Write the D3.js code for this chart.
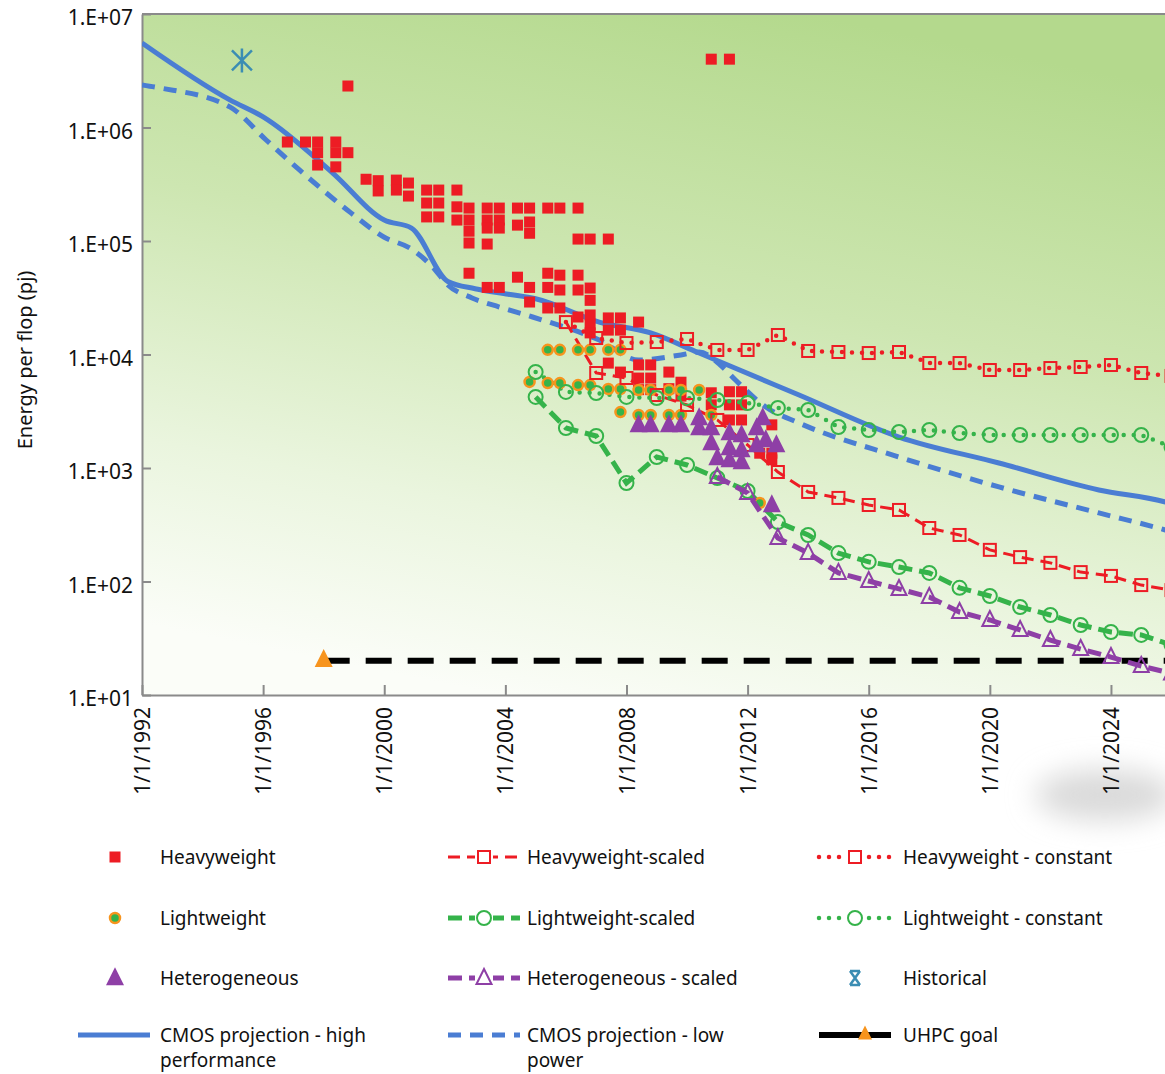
<!DOCTYPE html>
<html>
<head>
<meta charset="utf-8">
<script src="https://cdn.jsdelivr.net/npm/d3@7"></script>
<style>
  body { margin: 0; background: #fff; }
  svg { display: block; font-family: "Noto Sans", sans-serif; }
</style>
</head>
<body>
<svg id="chart" width="1165" height="1074"></svg>
<script>
// tick values
var xTicks = [1992, 1996, 2000, 2004, 2008, 2012, 2016, 2020, 2024];
var yTicks = [1e1, 1e2, 1e3, 1e4, 1e5, 1e6, 1e7];

// measured points, [year, pJ per flop]
var heavyweight = [
  [1996.8, 7.45e5], [1997.4, 7.45e5], [1997.8, 7.45e5], [1997.8, 6.0e5], [1997.8, 4.67e5],
  [1998.4, 7.45e5], [1998.4, 6.0e5], [1998.4, 4.5e5], [1998.8, 6.0e5], [1998.8, 2.32e6],
  [1999.4, 3.5e5], [1999.8, 3.4e5], [1999.8, 2.76e5], [2000.4, 3.44e5], [2000.4, 2.81e5],
  [2000.8, 3.24e5], [2000.8, 2.49e5], [2001.4, 2.81e5], [2001.8, 2.81e5], [2001.4, 2.16e5],
  [2001.8, 2.16e5], [2001.4, 1.63e5], [2001.8, 1.63e5], [2002.4, 2.81e5], [2002.4, 2.0e5],
  [2002.4, 1.53e5], [2002.8, 1.95e5], [2002.8, 1.53e5], [2002.8, 1.22e5], [2002.8, 9.6e4],
  [2003.4, 1.95e5], [2003.4, 1.53e5], [2003.4, 1.3e5], [2003.8, 1.95e5], [2003.8, 1.53e5],
  [2003.8, 1.3e5], [2003.4, 9.4e4], [2004.4, 1.95e5], [2004.8, 1.95e5], [2004.4, 1.38e5],
  [2004.8, 1.47e5], [2004.8, 1.17e5], [2005.4, 1.95e5], [2005.8, 1.95e5], [2006.4, 1.95e5],
  [2006.4, 1.04e5], [2006.8, 1.04e5], [2007.4, 1.04e5],
  [2002.8, 5.2e4], [2003.4, 3.9e4], [2003.8, 3.9e4], [2004.4, 4.8e4], [2004.8, 3.9e4],
  [2004.8, 2.9e4], [2005.4, 5.2e4], [2005.4, 3.9e4], [2005.8, 5.0e4], [2005.8, 3.7e4],
  [2005.4, 2.57e4], [2005.8, 2.57e4], [2006.4, 5.0e4], [2006.4, 3.7e4], [2006.8, 3.85e4],
  [2006.8, 3.0e4], [2006.4, 2.14e4], [2006.8, 2.23e4], [2006.8, 1.82e4], [2006.8, 1.55e4],
  [2007.4, 2.1e4], [2007.4, 1.64e4], [2007.8, 2.1e4], [2007.8, 1.64e4], [2008.4, 1.93e4],
  [2007.4, 8400], [2007.8, 7000], [2008.4, 8100], [2008.4, 6200], [2008.4, 4900],
  [2008.8, 8100], [2008.8, 6200], [2008.8, 4900], [2009.4, 7000], [2009.4, 5000],
  [2009.8, 5700], [2009.8, 4300], [2010.8, 4600], [2010.8, 3600], [2011.4, 4700],
  [2011.4, 3600], [2011.4, 2650], [2011.8, 4700], [2011.8, 3600], [2011.8, 2650],
  [2012.8, 2400], [2012.4, 1350], [2012.8, 1350], [2012.8, 1180],
  [2010.8, 4.0e6], [2011.4, 4.0e6]
];

var lightweight = [
  [2005.4, 1.1e4], [2005.8, 1.1e4], [2006.4, 1.1e4], [2006.8, 1.1e4], [2007.4, 1.1e4], [2007.8, 1.1e4],
  [2004.8, 5730], [2005.4, 5600], [2005.8, 5600], [2006.4, 5380], [2006.8, 5380], [2007.4, 4970],
  [2007.8, 4970], [2008.4, 4870], [2008.8, 4870], [2009.4, 4870], [2009.8, 4870], [2010.4, 4870],
  [2007.8, 3110], [2008.4, 2930], [2008.8, 2930], [2009.4, 2930], [2009.8, 2930], [2010.8, 2930],
  [2012.4, 492]
];

var heterogeneous = [
  [2008.4, 2390], [2008.8, 2390], [2009.4, 2390], [2009.8, 2390], [2010.4, 2760], [2010.4, 2250],
  [2010.8, 2250], [2010.8, 1660], [2011.0, 1225], [2011.4, 2030], [2011.4, 1500], [2011.4, 1175],
  [2011.8, 1950], [2011.8, 1440], [2011.8, 1130], [2012.3, 2250], [2012.3, 1595], [2012.5, 2760],
  [2012.6, 1765], [2012.95, 1595], [2012.8, 472]
];

var historical = [[1995.3, 3.9e6]];

var heavyScaled = [
  [2006, 19300], [2007, 6870], [2008, 6210], [2009, 4395], [2010, 3590], [2011, 2650],
  [2012, 1595], [2013, 922], [2014, 615], [2015, 545], [2016, 472], [2017, 427], [2018, 296],
  [2019, 257], [2020, 190], [2021, 164], [2022, 146], [2023, 121], [2024, 112], [2025, 93], [2026, 84]
];

var heavyConstant = [
  [2006, 19300], [2007, 13970], [2008, 12620], [2009, 12880], [2010, 13700], [2011, 10960],
  [2012, 10960], [2013, 14850], [2014, 10740], [2015, 10520], [2016, 10300], [2017, 10520],
  [2018, 8410], [2019, 8410], [2020, 7300], [2021, 7300], [2022, 7600], [2023, 7760],
  [2024, 8080], [2025, 6870], [2026, 6470]
];

var lightScaled = [
  [2005, 4227], [2006, 2250], [2007, 1914], [2008, 738], [2009, 1250], [2010, 1063], [2011, 816],
  [2012, 627], [2013, 334], [2014, 257], [2015, 178], [2016, 149], [2017, 134], [2018, 119],
  [2019, 88], [2020, 74.5], [2021, 59.6], [2022, 50.7], [2023, 41.4], [2024, 35.9], [2025, 33.8], [2026, 27.6]
];

var lightConstant = [
  [2005, 7015], [2006, 4677], [2007, 4580], [2008, 4227], [2009, 4140], [2010, 4140], [2011, 3972],
  [2012, 3740], [2013, 3380], [2014, 3245], [2015, 2297], [2016, 2162], [2017, 2076], [2018, 2162],
  [2019, 2033], [2020, 1954], [2021, 1954], [2022, 1954], [2023, 1954], [2024, 1954], [2025, 1954], [2026, 1531]
];

var heteroScaled = [
  [2011, 833], [2012, 602], [2013, 242], [2014, 178], [2015, 119], [2016, 101], [2017, 86],
  [2018, 73], [2019, 53.8], [2020, 45.8], [2021, 37.4], [2022, 30.5], [2023, 25.4], [2024, 21.6],
  [2025, 18.0], [2026, 15.5]
];

var cmosHigh = [
  [1992, 5.55e6], [1994.9, 1.75e6], [1996.0, 1.24e6], [1998.3, 3.97e5], [2000.0, 1.53e5],
  [2000.9, 1.3e5], [2002.1, 4.4e4], [2003.0, 3.8e4], [2004.1, 3.4e4], [2005.0, 3.1e4],
  [2007.1, 1.93e4], [2008.8, 1.55e4], [2010.4, 1.03e4], [2011.5, 7760], [2013.7, 4395],
  [2017.0, 1875], [2020.3, 1107], [2023.6, 640], [2025.8, 501], [2026.5, 440]
];

var cmosLow = [
  [1992, 2.37e6], [1992.6, 2.23e6], [1994.9, 1.52e6], [1996.1, 7.76e5], [1997.2, 4.23e5],
  [1998.9, 1.77e5], [2000.0, 1.08e5], [2000.9, 8.5e4], [2001.6, 5.9e4], [2002.1, 4.1e4],
  [2002.9, 3.15e4], [2003.8, 2.62e4], [2004.9, 2.14e4], [2007.1, 1.34e4], [2008.4, 8950],
  [2009.8, 9910], [2010.4, 10520], [2011.1, 8080], [2011.6, 5960], [2012.6, 3445],
  [2013.7, 2490], [2017.0, 1250], [2020.3, 681], [2023.6, 402], [2025.8, 284], [2026.5, 250]
];

var uhpcGoal = [[1998, 20], [2026.5, 20]];

var red = "#ed1c24", green = "#35b34a", orange = "#f7941d", purple = "#8e3fa6",
    blue = "#4a7dd3", teal = "#3b8db3";

var svg = d3.select("#chart");
var plotLeft = 142, plotTop = 14, plotBottom = 695;

var x = d3.scaleLinear().domain([1992, 2026]).range([plotLeft, plotLeft + 34 * 30.28]);
var y = d3.scaleLog().domain([10, 1e7]).range([plotBottom, plotTop]);

var defs = svg.append("defs");
var grad = defs.append("linearGradient").attr("id", "bg")
  .attr("x1", "65%").attr("y1", "0%").attr("x2", "35%").attr("y2", "100%");
grad.append("stop").attr("offset", "0%").attr("stop-color", "#b4d98d");
grad.append("stop").attr("offset", "40%").attr("stop-color", "#cde6b1");
grad.append("stop").attr("offset", "75%").attr("stop-color", "#eaf5de");
grad.append("stop").attr("offset", "100%").attr("stop-color", "#fbfdf8");

defs.append("clipPath").attr("id", "plot")
  .append("rect").attr("x", plotLeft).attr("y", plotTop)
  .attr("width", 1165 - plotLeft).attr("height", plotBottom - plotTop);

defs.append("filter").attr("id", "blur")
  .attr("x", "-60%").attr("y", "-100%").attr("width", "220%").attr("height", "300%")
  .append("feGaussianBlur").attr("stdDeviation", 14);

// shadow smudge at bottom right
svg.append("ellipse").attr("cx", 1105).attr("cy", 795).attr("rx", 70).attr("ry", 26)
  .attr("fill", "#dadada").attr("filter", "url(#blur)");

svg.append("rect").attr("x", plotLeft).attr("y", plotTop)
  .attr("width", 1165 - plotLeft).attr("height", plotBottom - plotTop).attr("fill", "url(#bg)");

// axes
var yAxis = d3.axisLeft(y).tickValues(yTicks)
  .tickFormat(d => "1.E+" + String(Math.round(Math.log10(d))).padStart(2, "0"))
  .tickSizeInner(-9).tickSizeOuter(0).tickPadding(9);
var gy = svg.append("g").attr("transform", `translate(${plotLeft},0)`).call(yAxis);
gy.selectAll("text").attr("font-size", 21).attr("fill", "#111").attr("dy", "0.5em")
  .attr("font-family", "Noto Sans");

var xAxis = d3.axisBottom(x).tickValues(xTicks)
  .tickFormat(d => "1/1/" + d).tickSizeInner(-10).tickSizeOuter(0).tickPadding(0);
var gx = svg.append("g").attr("transform", `translate(0,${plotBottom})`).call(xAxis);
gx.selectAll("text").attr("font-size", 21).attr("fill", "#111").attr("font-family", "Noto Sans")
  .attr("text-anchor", "end").attr("transform", "rotate(-90)")
  .attr("x", -12).attr("y", 0).attr("dy", "0.36em");

svg.selectAll(".domain, .tick line").attr("stroke", "#8a8a8a").attr("stroke-width", 2);
svg.append("line").attr("x1", plotLeft).attr("x2", 1165).attr("y1", plotTop).attr("y2", plotTop)
  .attr("stroke", "#8a8a8a").attr("stroke-width", 2);

svg.append("text").attr("transform", `translate(32,360) rotate(-90)`)
  .attr("text-anchor", "middle").attr("font-size", 20).attr("fill", "#111")
  .text("Energy per flop (pj)");

// marker helpers
function tri(s) { return `M0,${-s * 0.6}L${s / 2},${s * 0.4}L${-s / 2},${s * 0.4}Z`; }

function marker(g, kind, px, py) {
  if (kind === "hw") {
    g.append("rect").attr("x", px - 5.5).attr("y", py - 5.5).attr("width", 11).attr("height", 11).attr("fill", red);
  } else if (kind === "lw") {
    g.append("circle").attr("cx", px).attr("cy", py).attr("r", 5).attr("fill", green)
      .attr("stroke", orange).attr("stroke-width", 2.5);
  } else if (kind === "het") {
    g.append("path").attr("d", tri(18)).attr("transform", `translate(${px},${py})`).attr("fill", purple);
  } else if (kind === "osq") {
    g.append("rect").attr("x", px - 6).attr("y", py - 6).attr("width", 12).attr("height", 12)
      .attr("fill", "none").attr("stroke", red).attr("stroke-width", 2);
  } else if (kind === "ocirc") {
    g.append("circle").attr("cx", px).attr("cy", py).attr("r", 7).attr("fill", "none")
      .attr("stroke", green).attr("stroke-width", 2);
  } else if (kind === "otri") {
    g.append("path").attr("d", tri(15)).attr("transform", `translate(${px},${py})`)
      .attr("fill", "none").attr("stroke", purple).attr("stroke-width", 2);
  } else if (kind === "hist") {
    var a = g.append("g").attr("transform", `translate(${px},${py})`)
      .attr("stroke", teal).attr("stroke-width", 2.5).attr("fill", "none");
    a.append("path").attr("d", "M-10,-10L10,10M10,-10L-10,10M0,-12L0,12");
  } else if (kind === "goal") {
    g.append("path").attr("d", tri(18)).attr("transform", `translate(${px},${py})`).attr("fill", orange);
  }
}

var styles = {
  cmosHigh: { stroke: blue, width: 5, dash: null, cap: "butt" },
  cmosLow: { stroke: blue, width: 5, dash: "13,9", cap: "butt" },
  goal: { stroke: "#000", width: 6, dash: "26,16", cap: "butt" },
  heavyScaled: { stroke: red, width: 3, dash: "12,7", cap: "butt" },
  heavyConstant: { stroke: red, width: 4.5, dash: "0,10", cap: "round" },
  lightScaled: { stroke: green, width: 5, dash: "14,7", cap: "butt" },
  lightConstant: { stroke: green, width: 4.5, dash: "0,10", cap: "round" },
  heteroScaled: { stroke: purple, width: 5, dash: "14,7", cap: "butt" }
};

var plot = svg.append("g").attr("clip-path", "url(#plot)");

function drawLine(data, st, curve) {
  var line = d3.line().x(d => x(d[0])).y(d => y(d[1])).curve(curve || d3.curveLinear);
  plot.append("path").datum(data).attr("d", line).attr("fill", "none")
    .attr("stroke", st.stroke).attr("stroke-width", st.width)
    .attr("stroke-dasharray", st.dash).attr("stroke-linecap", st.cap);
}

drawLine(cmosLow, styles.cmosLow, d3.curveMonotoneX);
drawLine(cmosHigh, styles.cmosHigh, d3.curveMonotoneX);
drawLine(uhpcGoal, styles.goal);

heavyweight.forEach(d => marker(plot, "hw", x(d[0]), y(d[1])));

drawLine(heavyConstant, styles.heavyConstant);
drawLine(heavyScaled, styles.heavyScaled);
drawLine(lightConstant, styles.lightConstant);
drawLine(lightScaled, styles.lightScaled);

lightweight.forEach(d => marker(plot, "lw", x(d[0]), y(d[1])));

heavyConstant.forEach(d => marker(plot, "osq", x(d[0]), y(d[1])));
heavyScaled.slice(1).forEach(d => marker(plot, "osq", x(d[0]), y(d[1])));
lightConstant.forEach(d => marker(plot, "ocirc", x(d[0]), y(d[1])));
lightScaled.forEach(d => marker(plot, "ocirc", x(d[0]), y(d[1])));

heterogeneous.forEach(d => marker(plot, "het", x(d[0]), y(d[1])));
drawLine(heteroScaled, styles.heteroScaled);
heteroScaled.forEach(d => marker(plot, "otri", x(d[0]), y(d[1])));

historical.forEach(d => marker(plot, "hist", x(d[0]), y(d[1])));
marker(plot, "goal", x(uhpcGoal[0][0]), y(uhpcGoal[0][1]) - 1);

// legend
var colSym = [115, 484, 855];
var colText = [160, 527, 903];
var rowY = [857, 918, 978, 1035];
var legendItems = [
  { label: ["Heavyweight"], col: 0, row: 0, mark: "hw" },
  { label: ["Lightweight"], col: 0, row: 1, mark: "lw" },
  { label: ["Heterogeneous"], col: 0, row: 2, mark: "het" },
  { label: ["CMOS projection - high", "performance"], col: 0, row: 3, line: "cmosHigh" },
  { label: ["Heavyweight-scaled"], col: 1, row: 0, line: "heavyScaled", mark: "osq" },
  { label: ["Lightweight-scaled"], col: 1, row: 1, line: "lightScaled", mark: "ocirc" },
  { label: ["Heterogeneous - scaled"], col: 1, row: 2, line: "heteroScaled", mark: "otri" },
  { label: ["CMOS projection - low", "power"], col: 1, row: 3, line: "cmosLow" },
  { label: ["Heavyweight - constant"], col: 2, row: 0, line: "heavyConstant", mark: "osq" },
  { label: ["Lightweight - constant"], col: 2, row: 1, line: "lightConstant", mark: "ocirc" },
  { label: ["Historical"], col: 2, row: 2, mark: "hist" },
  { label: ["UHPC goal"], col: 2, row: 3, line: "goal", mark: "goal" }
];

var lg = svg.append("g");
legendItems.forEach(function (it) {
  var cx = it.col === 0 && it.line ? 114 : colSym[it.col];
  var cy = rowY[it.row];
  if (it.line) {
    var st = styles[it.line];
    lg.append("line").attr("x1", cx - 36).attr("x2", cx + 36).attr("y1", cy).attr("y2", cy)
      .attr("stroke", st.stroke).attr("stroke-width", st.width)
      .attr("stroke-dasharray", it.line === "goal" ? null : st.dash).attr("stroke-linecap", st.cap);
  }
  if (it.mark) {
    if (it.line && it.mark !== "goal") {
      lg.append("rect").attr("x", cx - 9).attr("y", cy - 9).attr("width", 18).attr("height", 18).attr("fill", "#fff");
    }
    if (it.mark === "hist") {
      lg.append("path").attr("d", "M-5,-7L5,7M5,-7L-5,7M-5,-7L5,-7M-5,7L5,7")
        .attr("transform", `translate(${cx},${cy})`).attr("stroke", teal).attr("stroke-width", 2.5).attr("fill", "none");
    } else if (it.mark === "goal") {
      lg.append("path").attr("d", tri(14)).attr("transform", `translate(${cx + 10},${cy - 1})`).attr("fill", orange);
    } else {
      marker(lg, it.mark, cx, cy);
    }
  }
  // one text element per line so the wrapped lines sit apart
  it.label.forEach(function (s, i) {
    lg.append("text").attr("x", colText[it.col]).attr("y", cy + 7 + i * 25)
      .attr("font-size", 19).attr("fill", "#111").text(s);
  });
});
</script>
</body>
</html>
